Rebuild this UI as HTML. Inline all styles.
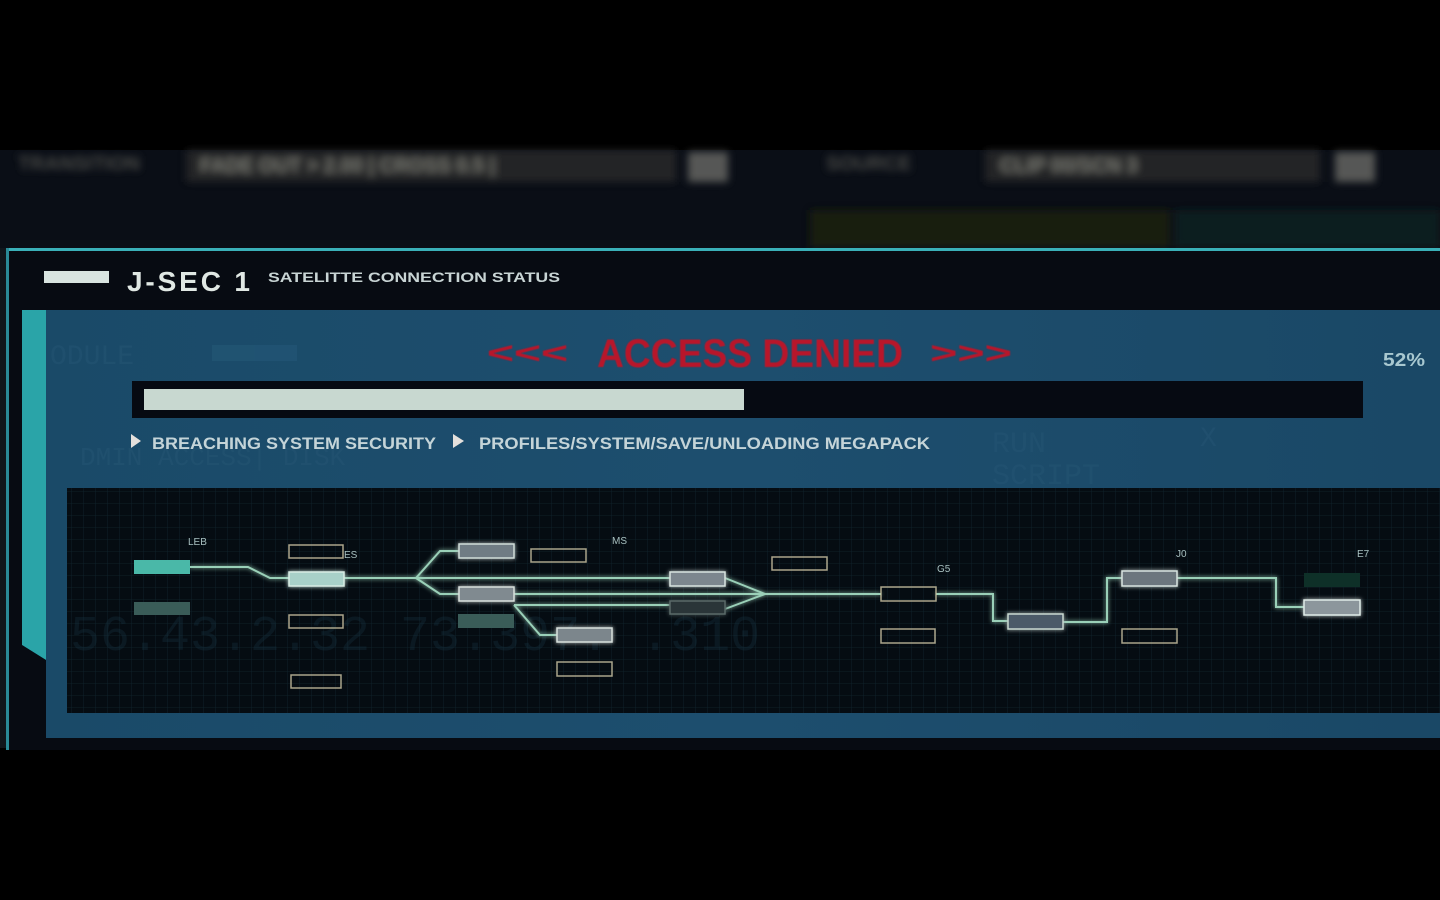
<!DOCTYPE html>
<html><head><meta charset="utf-8"><style>
html,body{margin:0;padding:0;background:#000;width:1440px;height:900px;overflow:hidden}
svg{display:block}
</style></head><body>
<svg width="1440" height="900" viewBox="0 0 1440 900" xmlns="http://www.w3.org/2000/svg">
<defs>
<filter id="blur" x="-10%" y="-50%" width="120%" height="200%"><feGaussianBlur stdDeviation="4"/></filter>
<filter id="glow" x="-30%" y="-80%" width="160%" height="260%"><feGaussianBlur stdDeviation="2" result="b"/><feMerge><feMergeNode in="b"/><feMergeNode in="SourceGraphic"/></feMerge></filter>
<filter id="soft" x="-10%" y="-10%" width="120%" height="120%"><feGaussianBlur stdDeviation="0.6"/></filter>
<pattern id="grid" width="12" height="12" patternUnits="userSpaceOnUse"><path d="M12 0V12M0 12H12" fill="none" stroke="#16303a" stroke-width="0.8"/></pattern>
<linearGradient id="bluebg" x1="0" y1="0" x2="1" y2="0"><stop offset="0" stop-color="#1a4a68"/><stop offset="0.5" stop-color="#1d4e6e"/><stop offset="1" stop-color="#1a4866"/></linearGradient>
</defs>
<rect width="1440" height="900" fill="#000"/>
<rect x="0" y="150" width="1440" height="98" fill="#0a0e16"/>
<g filter="url(#blur)" opacity="0.8">
<text x="18" y="170" font-family="Liberation Sans" font-weight="bold" font-size="20" fill="#5a5a52">TRANSITION</text>
<rect x="186" y="150" width="490" height="32" fill="#2a2a2a"/>
<text x="200" y="172" font-family="Liberation Sans" font-weight="bold" font-size="20" fill="#8a8a80">FADE OUT &gt; 2.00 | CROSS 0.5 |</text>
<rect x="688" y="152" width="40" height="30" fill="#6a6a66"/>
<text x="826" y="170" font-family="Liberation Sans" font-weight="bold" font-size="20" fill="#5a5a52">SOURCE</text>
<rect x="985" y="150" width="335" height="32" fill="#2a2a2c"/>
<text x="1000" y="172" font-family="Liberation Sans" font-weight="bold" font-size="20" fill="#8a8a80">CLIP 00/SCN 3</text>
<rect x="1335" y="152" width="40" height="30" fill="#6a6a66"/>
<rect x="810" y="210" width="360" height="38" fill="#1c2410"/>
<rect x="1175" y="210" width="265" height="38" fill="#0c2420"/>
</g>
<rect x="0" y="248" width="6" height="500" fill="#10161c"/>
<rect x="6" y="248" width="1434" height="502" fill="#070b12"/>
<rect x="6" y="248" width="1434" height="3" fill="#3ab0b8"/>
<rect x="6" y="248" width="3" height="502" fill="#2a8a98"/>
<rect x="44" y="271" width="65" height="12" fill="#d8e4e0"/>
<text x="127" y="291" font-family="Liberation Sans" font-weight="bold" font-size="28" fill="#e0e8e4" letter-spacing="3" textLength="126">J-SEC 1</text>
<text x="268" y="282" font-family="Liberation Sans" font-weight="bold" font-size="14" fill="#c8d4d4" textLength="292" lengthAdjust="spacingAndGlyphs">SATELITTE CONNECTION STATUS</text>
<rect x="22" y="310" width="1418" height="428" fill="url(#bluebg)"/>
<polygon points="22,310 46,310 46,660 22,645" fill="#2aa4a8"/>
<polygon points="22,645 46,660 46,738 22,738" fill="#070b12"/>
<g font-family="Liberation Mono" fill="#2a5a78" opacity="0.35">
<text x="50" y="364" font-size="28">ODULE</text>
<rect x="212" y="345" width="85" height="16" fill="#2c6280"/>
<text x="80" y="465" font-size="26">DMIN ACCESS| DISK</text>
<text x="992" y="452" font-size="30">RUN</text>
<text x="992" y="484" font-size="30">SCRIPT</text>
<text x="1200" y="446" font-size="28">X</text>
</g>
<g font-family="Liberation Sans" fill="#b8182c" filter="url(#soft)">
<text x="487" y="363" font-size="30" font-weight="bold" textLength="81" lengthAdjust="spacingAndGlyphs">&lt;&lt;&lt;</text>
<text x="597" y="367" font-size="40" font-weight="bold" textLength="306" lengthAdjust="spacingAndGlyphs">ACCESS DENIED</text>
<text x="930" y="363" font-size="30" font-weight="bold" textLength="82" lengthAdjust="spacingAndGlyphs">&gt;&gt;&gt;</text>
</g>
<text x="1383" y="366" font-family="Liberation Sans" font-weight="bold" font-size="18" fill="#a8c8d0" textLength="42" lengthAdjust="spacingAndGlyphs">52%</text>
<rect x="132" y="381" width="1231" height="37" fill="#060a12"/>
<rect x="144" y="389" width="600" height="21" fill="#c8d8d0"/>
<polygon points="131,434 131,448 141,441" fill="#e4e0dc"/>
<text x="152" y="449" font-family="Liberation Sans" font-weight="bold" font-size="17" fill="#c4d4d8" textLength="284" lengthAdjust="spacingAndGlyphs">BREACHING SYSTEM SECURITY</text>
<polygon points="453,434 453,448 464,441" fill="#e4e0dc"/>
<text x="479" y="449" font-family="Liberation Sans" font-weight="bold" font-size="17" fill="#c4d4d8" textLength="451" lengthAdjust="spacingAndGlyphs">PROFILES/SYSTEM/SAVE/UNLOADING MEGAPACK</text>
<rect x="67" y="488" width="1373" height="225" fill="#050c12"/>
<rect x="67" y="488" width="1373" height="225" fill="url(#grid)" opacity="0.7"/>
<g font-family="Liberation Mono" fill="#1a3848" font-size="50" opacity="0.3">
<text x="70" y="650">56.43.2.32  73.397.  .310</text>
</g>
<g fill="none" stroke="#9ad0b8" stroke-width="2" filter="url(#glow)">
<polyline points="190,567 248,567 270,578 289,578"/>
<polyline points="344,578 416,578 440,551 459,551"/>
<polyline points="416,578 440,594 459,594"/>
<polyline points="416,578 670,578"/>
<polyline points="514,594 765,594"/>
<polyline points="514,605 670,605"/>
<polyline points="514,605 540,635 557,635"/>
<polyline points="725,578 765,594 725,609"/>
<polyline points="765,594 881,594"/>
<polyline points="936,594 993,594 993,621 1008,621"/>
<polyline points="1063,622 1107,622 1107,578 1122,578"/>
<polyline points="1177,578 1276,578 1276,607 1304,607"/>
</g>
<g fill="none" stroke="#c8c0a0" stroke-width="1.5" opacity="0.85">
<rect x="289" y="545" width="54" height="13"/>
<rect x="289" y="615" width="54" height="13"/>
<rect x="291" y="675" width="50" height="13"/>
<rect x="531" y="549" width="55" height="13"/>
<rect x="557" y="662" width="55" height="14"/>
<rect x="772" y="557" width="55" height="13"/>
<rect x="881" y="587" width="55" height="14"/>
<rect x="881" y="629" width="54" height="14"/>
<rect x="1122" y="629" width="55" height="14"/>
</g>
<rect x="134" y="560" width="56" height="14" fill="#4ab8a8"/>
<rect x="134" y="602" width="56" height="13" fill="#3a5c58"/>
<rect x="458" y="614" width="56" height="14" fill="#3a5c58"/>
<rect x="1304" y="573" width="56" height="14" fill="#0e3028"/>
<g filter="url(#glow)">
<rect x="289" y="572" width="55" height="14" fill="#a8d0c8" stroke="#d8ece4" stroke-width="1.5"/>
<rect x="459" y="544" width="55" height="14" fill="#707c84" stroke="#d0dcd8" stroke-width="1.5"/>
<rect x="459" y="587" width="55" height="14" fill="#808a90" stroke="#d8e0dc" stroke-width="1.5"/>
<rect x="557" y="628" width="55" height="14" fill="#7c868c" stroke="#d8e0dc" stroke-width="1.5"/>
<rect x="670" y="572" width="55" height="14" fill="#7c868e" stroke="#d8e4e0" stroke-width="1.5"/>
<rect x="670" y="601" width="55" height="13" fill="#2c3438" stroke="#5a6a68" stroke-width="1.5"/>
<rect x="1008" y="614" width="55" height="15" fill="#4c5a68" stroke="#c8d8d0" stroke-width="1.5"/>
<rect x="1122" y="571" width="55" height="15" fill="#6c767e" stroke="#d8e4e0" stroke-width="1.5"/>
<rect x="1304" y="600" width="56" height="15" fill="#8c969c" stroke="#e0ece8" stroke-width="1.5"/>
</g>
<g font-family="Liberation Sans" font-size="10" fill="#a8c0c0">
<text x="188" y="545">LEB</text>
<text x="344" y="558">ES</text>
<text x="612" y="544">MS</text>
<text x="937" y="572">G5</text>
<text x="1176" y="557">J0</text>
<text x="1357" y="557">E7</text>
</g>
</svg>
</body></html>
